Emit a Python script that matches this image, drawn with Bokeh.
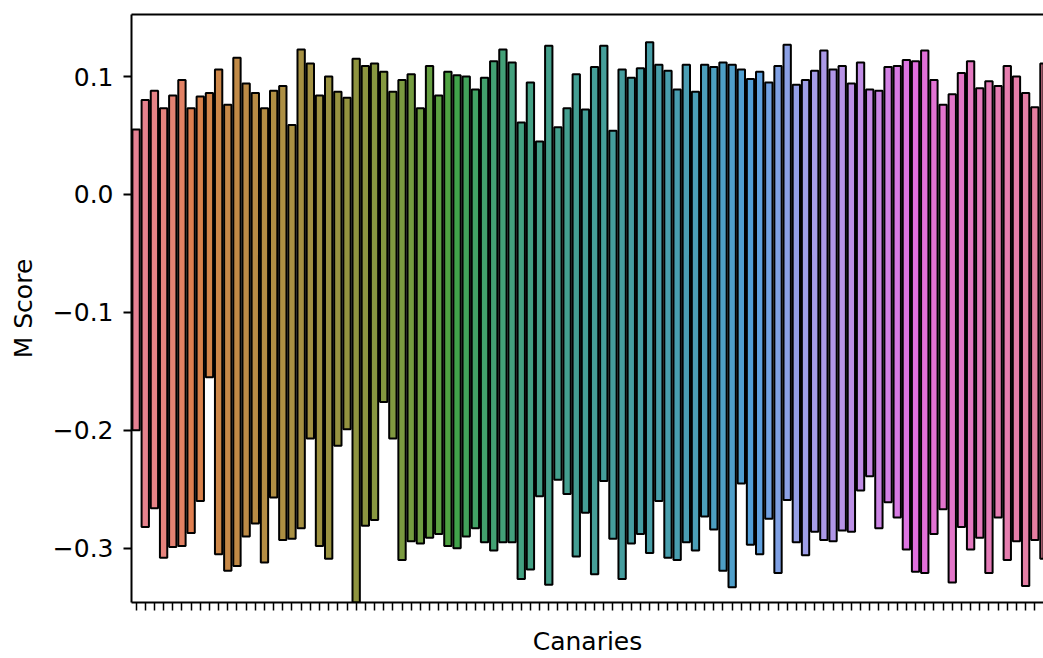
import math, colorsys
from bokeh.plotting import figure
from bokeh.models import (ColumnDataSource, Range1d, FixedTicker, LinearAxis,
                          CustomJSTickFormatter)
from bokeh.embed import file_html
from bokeh.resources import INLINE

# ---- data ----
canaries = list(range(100))
m_max = [0.055, 0.080, 0.088, 0.073, 0.084, 0.097, 0.073, 0.083, 0.086, 0.106,
         0.076, 0.116, 0.094, 0.086, 0.073, 0.088, 0.092, 0.059, 0.123, 0.111,
         0.084, 0.100, 0.087, 0.082, 0.115, 0.109, 0.111, 0.104, 0.087, 0.097,
         0.102, 0.073, 0.109, 0.084, 0.104, 0.101, 0.100, 0.089, 0.099, 0.113,
         0.123, 0.112, 0.061, 0.095, 0.045, 0.126, 0.057, 0.073, 0.102, 0.072,
         0.108, 0.126, 0.054, 0.106, 0.099, 0.107, 0.129, 0.110, 0.105, 0.089,
         0.110, 0.087, 0.110, 0.108, 0.112, 0.110, 0.106, 0.098, 0.104, 0.095,
         0.109, 0.127, 0.093, 0.097, 0.105, 0.122, 0.106, 0.109, 0.094, 0.112,
         0.089, 0.088, 0.108, 0.109, 0.114, 0.113, 0.122, 0.097, 0.076, 0.085,
         0.103, 0.113, 0.090, 0.096, 0.092, 0.109, 0.100, 0.086, 0.074, 0.111]
m_min = [-0.200, -0.282, -0.266, -0.308, -0.299, -0.298, -0.287, -0.260, -0.155, -0.305,
         -0.319, -0.315, -0.290, -0.279, -0.312, -0.257, -0.293, -0.292, -0.283, -0.207,
         -0.298, -0.309, -0.213, -0.199, -0.360, -0.281, -0.276, -0.176, -0.207, -0.310,
         -0.294, -0.296, -0.291, -0.288, -0.298, -0.300, -0.290, -0.283, -0.295, -0.302,
         -0.295, -0.295, -0.326, -0.318, -0.256, -0.331, -0.242, -0.254, -0.307, -0.270,
         -0.322, -0.243, -0.292, -0.326, -0.296, -0.288, -0.304, -0.260, -0.308, -0.310,
         -0.295, -0.302, -0.273, -0.284, -0.319, -0.333, -0.245, -0.297, -0.305, -0.275,
         -0.321, -0.259, -0.295, -0.306, -0.286, -0.293, -0.294, -0.285, -0.286, -0.251,
         -0.239, -0.283, -0.261, -0.274, -0.301, -0.320, -0.321, -0.288, -0.267, -0.329,
         -0.282, -0.301, -0.291, -0.321, -0.274, -0.310, -0.294, -0.332, -0.293, -0.309]
y_ticks = [-0.3, -0.2, -0.1, 0.0, 0.1]

# ---- husl palette (seaborn) ----
_m = [[3.2406, -1.5372, -0.4986], [-0.9689, 1.8758, 0.0415], [0.0557, -0.2040, 1.0570]]
refU, refV = 0.19784, 0.46834

def max_chroma(L, H):
    hrad = math.radians(H)
    sinH, cosH = math.sin(hrad), math.cos(hrad)
    sub1 = (L + 16) ** 3 / 1560896.0
    sub2 = sub1 if sub1 > 0.008856 else L / 903.3
    result = float("inf")
    for m1, m2, m3 in _m:
        top = (0.99915 * m1 + 1.05122 * m2 + 1.14460 * m3) * sub2
        rbottom = 0.86330 * m3 - 0.17266 * m2
        lbottom = 0.12949 * m3 - 0.38848 * m1
        bottom = (rbottom * sinH + lbottom * cosH) * sub2
        for t in (0.0, 1.0):
            C = L * (top - 1.05122 * t) / (bottom + 0.17266 * sinH * t)
            if 0.0 < C < result:
                result = C
    return result

def f_inv(t):
    return t ** 3 if t ** 3 > 0.008856 else (116.0 * t - 16.0) / 903.3

def from_linear(c):
    return 12.92 * c if c <= 0.0031308 else 1.055 * c ** (1 / 2.4) - 0.055

def husl_to_rgb(H, S, L):
    C = max_chroma(L, H) / 100.0 * S
    hr = math.radians(H)
    U, V = math.cos(hr) * C, math.sin(hr) * C
    varY = f_inv((L + 16.0) / 116.0)
    varU = U / (13.0 * L) + refU
    varV = V / (13.0 * L) + refV
    Y = varY
    X = -(9.0 * Y * varU) / ((varU - 4.0) * varV - varU * varV)
    Z = (9.0 * Y - 15.0 * varV * Y - varV * X) / (3.0 * varV)
    rgb = [from_linear(r[0] * X + r[1] * Y + r[2] * Z) for r in _m]
    return [min(max(v, 0.0), 1.0) for v in rgb]

n = len(canaries)
colors = []
for i in range(n):
    h = ((i / n) + 0.01) % 1 * 359
    r, g, b = husl_to_rgb(h, 0.9 * 99, 0.65 * 99)
    hh, ll, ss = colorsys.rgb_to_hls(r, g, b)
    r, g, b = colorsys.hls_to_rgb(hh, ll, ss * 0.75)
    colors.append("#%02x%02x%02x" % (round(r * 255), round(g * 255), round(b * 255)))

src = ColumnDataSource(dict(x=canaries, top=m_max, bottom=m_min, color=colors))

p = figure(width=1043, height=658, output_backend="svg", toolbar_location=None,
           x_range=Range1d(-0.5, 98.95), y_range=Range1d(-0.346, 0.1526),
           min_border_left=131, min_border_right=0, min_border_top=14,
           min_border_bottom=56, x_axis_location=None, y_axis_location=None)
p.outline_line_color = None
p.grid.visible = False
p.background_fill_color = "white"
p.border_fill_color = "white"

p.vbar(x="x", top="top", bottom="bottom", width=0.8, source=src,
       fill_color="color", line_color="black", line_width=2.0)

font = "DejaVu Sans"
fs = "25px"
# left axis
ya = LinearAxis(ticker=FixedTicker(ticks=y_ticks),
                formatter=CustomJSTickFormatter(code="return (tick < -1e-9 ? '\u2212' : '') + Math.abs(tick).toFixed(1);"),
                axis_label="M Score")
ya.axis_line_width = 2.0
ya.axis_line_color = "black"
ya.major_tick_line_color = "black"
ya.major_tick_line_width = 1.8
ya.major_tick_out = 8
ya.major_tick_in = 0
ya.minor_tick_line_color = None
ya.major_label_text_font = font
ya.major_label_text_font_size = fs
ya.major_label_text_color = "black"
ya.major_label_standoff = 10
ya.axis_label_text_font = font
ya.axis_label_text_font_size = fs
ya.axis_label_text_font_style = "normal"
ya.axis_label_text_color = "black"
ya.axis_label_standoff = 12
p.add_layout(ya, "left")

# bottom axis
xa = LinearAxis(ticker=FixedTicker(ticks=canaries),
                formatter=CustomJSTickFormatter(code="return '';"),
                axis_label="Canaries")
xa.axis_line_width = 2.0
xa.axis_line_color = "black"
xa.major_tick_line_color = "black"
xa.major_tick_line_width = 1.5
xa.major_tick_out = 8
xa.major_tick_in = 0
xa.minor_tick_line_color = None
xa.major_label_text_font_size = "0px"
xa.major_label_standoff = 0
xa.axis_label_text_font = font
xa.axis_label_text_font_size = fs
xa.axis_label_text_font_style = "normal"
xa.axis_label_text_color = "black"
xa.axis_label_standoff = 16
p.add_layout(xa, "below")

# top spine
ta = LinearAxis(ticker=FixedTicker(ticks=[]))
ta.axis_line_width = 2.0
ta.axis_line_color = "black"
ta.major_tick_line_color = None
ta.minor_tick_line_color = None
ta.major_tick_out = 0
ta.minor_tick_out = 0
ta.major_label_text_font_size = "0px"
ta.major_label_standoff = 0
p.add_layout(ta, "above")

open("out.html", "w").write(file_html(p, INLINE))
